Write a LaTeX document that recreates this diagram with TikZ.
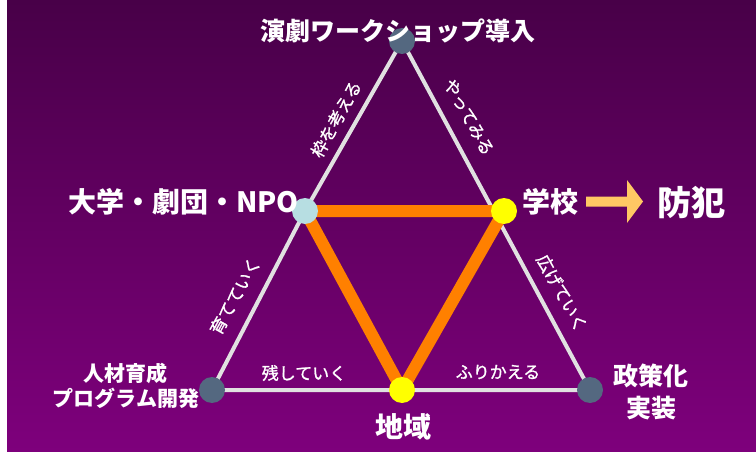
\documentclass[tikz,border=0pt]{standalone}
\usepackage{fontspec}
\setmainfont{Noto Sans CJK JP}
\newfontfamily\jpmed[FakeBold=1.2]{Noto Sans CJK JP}
\definecolor{bgtop}{RGB}{72,0,72}
\definecolor{bgbot}{RGB}{126,0,124}
\definecolor{edgec}{RGB}{225,225,225}
\definecolor{orangec}{RGB}{255,128,0}
\definecolor{slatec}{RGB}{84,104,128}
\definecolor{lblue}{RGB}{183,222,226}
\definecolor{yel}{RGB}{255,255,0}
\definecolor{arrowc}{RGB}{255,200,100}
\tikzset{
  dotnode/.style={circle, minimum size=26pt, inner sep=0pt, draw=none},
  edgeline/.style={draw=edgec, line width=4pt},
  orangeline/.style={draw=orangec, line width=12pt, line join=round},
  lbl/.style={text=white, inner sep=0pt, align=center},
  big/.style={lbl, font=\bfseries\fontsize{28}{32}\selectfont},
  edgelbl/.style={lbl, font=\jpmed\fontsize{17}{20}\selectfont},
}
\begin{document}
\begin{tikzpicture}[x=1pt,y=-1pt]
\useasboundingbox (0,0) rectangle (756,452);
\fill[top color=bgtop, bottom color=bgbot] (7,0) rectangle (756,452);
\fill[white] (0,0) rectangle (7,452);
% positions
\coordinate (T) at (402,41);
\coordinate (L) at (305,211);
\coordinate (R) at (504,211);
\coordinate (BL) at (212,390);
\coordinate (BM) at (402,390);
\coordinate (BR) at (590,390);
% white triangle
\draw[edgeline] (T) -- (L) -- (BL) -- (BM) -- (BR) -- cycle;
% orange triangle
\draw[orangeline] (L) -- (R) -- (BM) -- cycle;
% dots
\node[dotnode, fill=slatec] (top) at (T) {};
\node[dotnode, fill=lblue] (lm) at (L) {};
\node[dotnode, fill=yel] (rm) at (R) {};
\node[dotnode, fill=slatec] (bl) at (BL) {};
\node[dotnode, fill=yel] (bm) at (BM) {};
\node[dotnode, fill=slatec] (br) at (BR) {};
% main labels
\node[lbl, font=\bfseries\fontsize{25}{28}\selectfont] (ttl) at (398,31) {演劇ワークショップ導入};
\node[big, anchor=east] (univ) at (299,202) {大学・劇団・NPO};
\node[big] (school) at (550,202) {学校};
\node[lbl, font=\bfseries\fontsize{34}{40}\selectfont] (crime) at (691,203) {防犯};
\node[big] (area) at (403,427) {地域};
\node[lbl, font=\bfseries\fontsize{21}{25}\selectfont] (hr) at (126,385.5) {人材育成\\プログラム開発};
\node[lbl, font=\bfseries\fontsize{25}{32}\selectfont] (pol) at (651,392) {政策化\\実装};
% arrow
\fill[arrowc] (586,196.5) -- (627,196.5) -- (627,180) -- (643,201.5) -- (627,223) -- (627,206.5) -- (586,206.5) -- cycle;
% edge labels
\node[edgelbl, rotate=61] (e1) at (336,119) {枠を考える};
\node[edgelbl, rotate=-61] (e2) at (469,117) {やってみる};
\node[edgelbl, rotate=61] (e3) at (235,296) {育てていく};
\node[edgelbl, rotate=-61] (e4) at (562,293) {広げていく};
\node[edgelbl] (e5) at (304,373) {残していく};
\node[edgelbl] (e6) at (498,372) {ふりかえる};
\end{tikzpicture}
\end{document}
